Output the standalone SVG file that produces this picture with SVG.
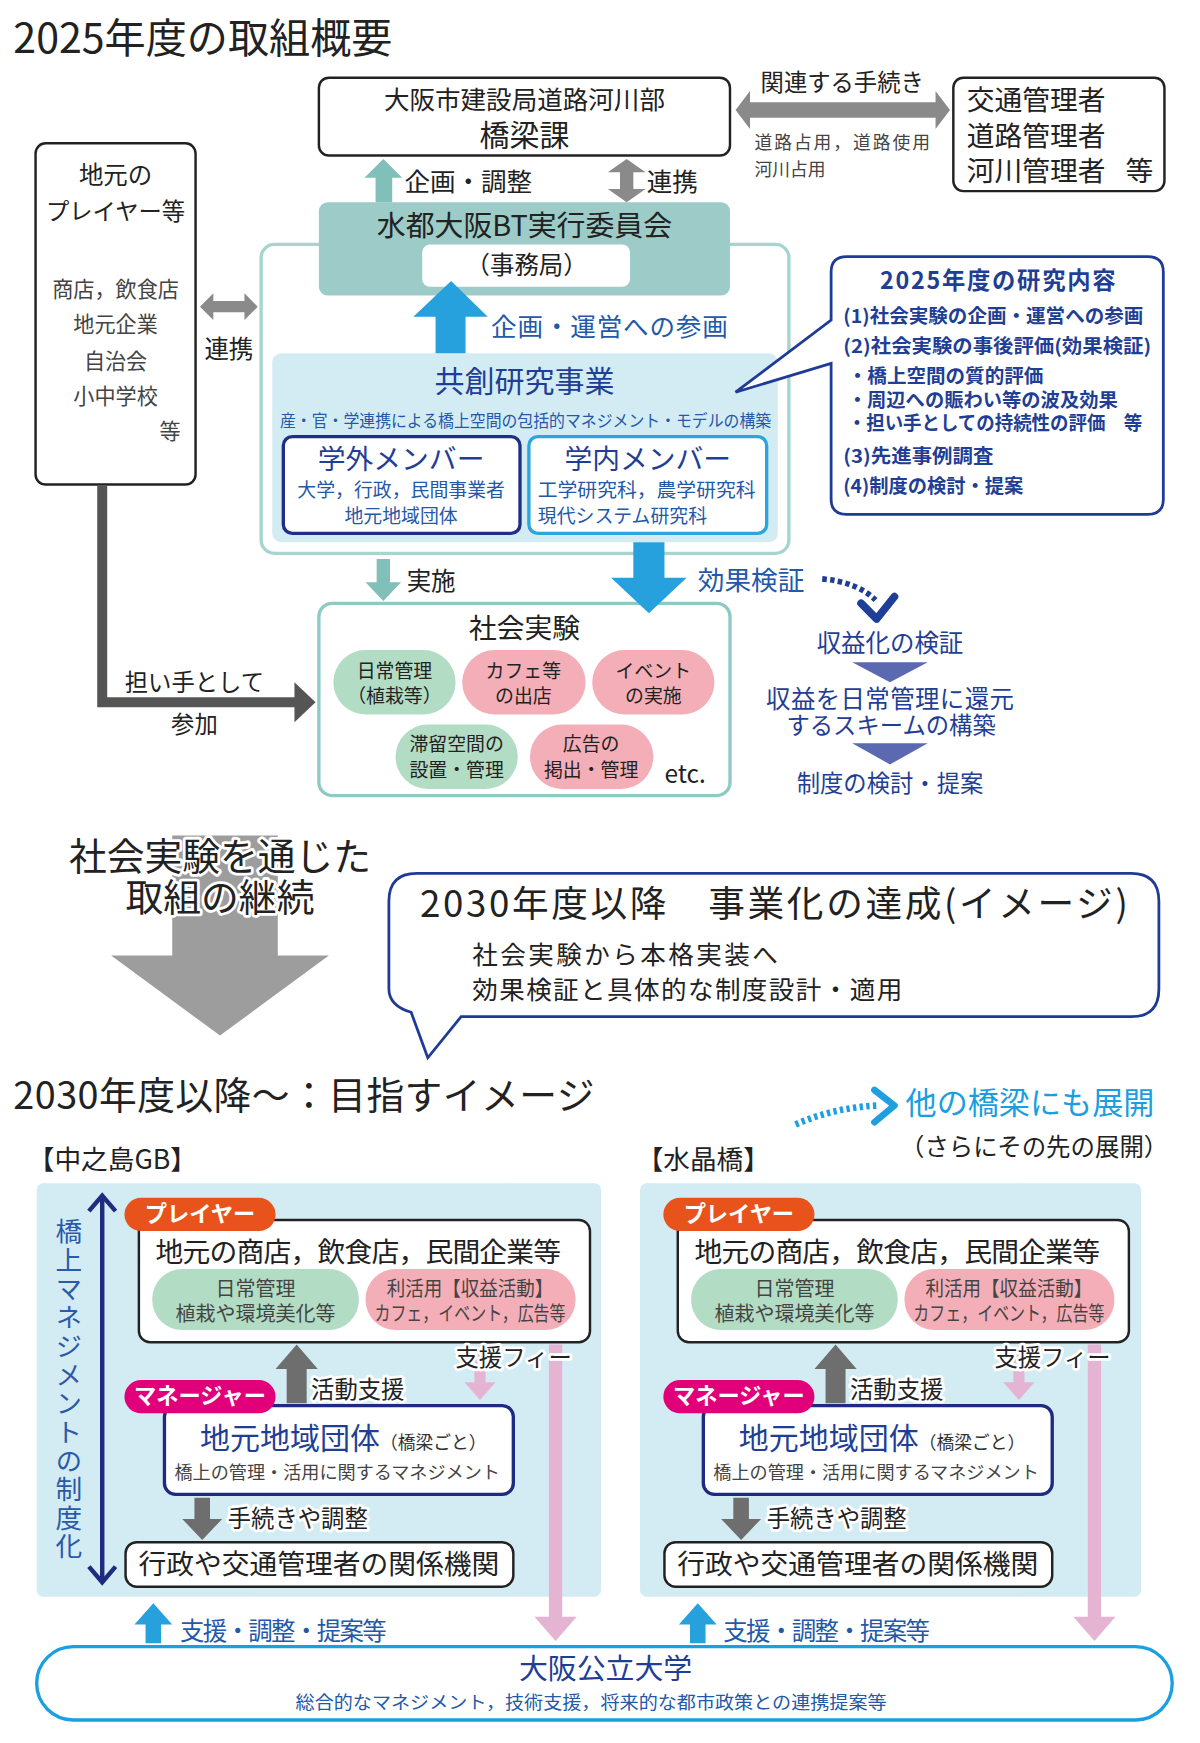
<svg xmlns="http://www.w3.org/2000/svg" width="1200" height="1743" viewBox="0 0 1200 1743">
<style>
text{font-family:"Noto Sans CJK JP","Noto Sans",sans-serif;fill:#222}
.c{text-anchor:middle}
.box{fill:#fff;stroke:#222;stroke-width:2.2}
.nv{fill:#1f3e95}
.bl{fill:#2458a8}
.g{fill:#444}
.b{font-weight:bold}
.halo{paint-order:stroke;stroke:#fff;stroke-width:5;stroke-linejoin:round}
.gray{fill:#8a8a8a}
.dgray{fill:#6e6e6e}
.teal{fill:#80c0b9}
.blue{fill:#27a1de}
.pink{fill:#e4b4d2}
.pg{fill:#b2dcc3}
.pp{fill:#f4aeb7}
.tri{fill:#5b69b1}
.panel{fill:#d3ecf4}
.wh{fill:#fff}
</style>
<rect width="1200" height="1743" fill="#fff"/>
<g transform="scale(1.11111)">

<!-- ===== Section 1 ===== -->
<g id="title-2025"><text x="12" y="48" font-size="37">2025年度の取組概要</text></g>

<g id="n-bridge-division">
<rect class="box" x="287" y="70" width="370" height="70" rx="9"/>
<text class="c"><tspan x="472" y="98" font-size="23">大阪市建設局道路河川部</tspan><tspan x="472" y="131" font-size="27">橋梁課</tspan></text>
</g>

<g id="n-road-managers">
<rect class="box" x="858" y="70" width="190" height="102" rx="9"/>
<text font-size="25"><tspan x="870" y="99">交通管理者</tspan><tspan x="870" y="131">道路管理者</tspan><tspan x="870" y="163">河川管理者</tspan><tspan x="1013" y="163">等</tspan></text>
</g>

<g id="n-local-players">
<rect class="box" x="32" y="129" width="144" height="307" rx="9"/>
<text class="c"><tspan x="104" y="166" font-size="22">地元の</tspan><tspan x="104" y="198" font-size="21">プレイヤー等</tspan><tspan class="g" x="104" y="267" font-size="19">商店，飲食店</tspan><tspan class="g" x="104" y="299" font-size="19">地元企業</tspan><tspan class="g" x="104" y="332" font-size="19">自治会</tspan><tspan class="g" x="104" y="364" font-size="19">小中学校</tspan><tspan class="g" x="153" y="395" font-size="19">等</tspan></text>
</g>

<g id="n-committee">
<rect x="235" y="220" width="475" height="278" rx="12" fill="#fff" stroke="#a6d5d0" stroke-width="3"/>
<rect x="287" y="182" width="370" height="84" rx="8" fill="#9dcbc7"/>
<text class="c" x="472" y="212" font-size="26">水都大阪BT実行委員会</text>
<rect x="380" y="220" width="187" height="38" rx="7" fill="#fff"/>
<text class="c" x="474" y="247" font-size="22">（事務局）</text>
</g>

<g id="n-cocreation">
<rect x="245" y="318" width="455" height="170" rx="8" class="panel"/>
<text class="c nv" x="472" y="353" font-size="27">共創研究事業</text>
<text class="c bl" x="473" y="384" font-size="15" textLength="442" lengthAdjust="spacingAndGlyphs">産・官・学連携による橋上空間の包括的マネジメント・モデルの構築</text>
<g id="n-external">
<rect x="255" y="393" width="213" height="87" rx="8" fill="#fff" stroke="#1f2f86" stroke-width="3"/>
<text class="c"><tspan class="nv" x="361" y="422" font-size="25">学外メンバー</tspan><tspan class="bl" x="361" y="447" font-size="17">大学，行政，民間事業者</tspan><tspan class="bl" x="361" y="471" font-size="17">地元地域団体</tspan></text>
</g>
<g id="n-internal">
<rect x="476" y="393" width="214" height="87" rx="8" fill="#fff" stroke="#2aa5e0" stroke-width="3"/>
<text><tspan class="nv c" x="583" y="422" font-size="25">学内メンバー</tspan><tspan class="bl" x="484" y="447" font-size="17" textLength="196" lengthAdjust="spacingAndGlyphs">工学研究科，農学研究科</tspan><tspan class="bl" x="484" y="471" font-size="17">現代システム研究科</tspan></text>
</g>
</g>

<g id="n-research">
<path d="M762 231 H1033 Q1047 231 1047 245 V449 Q1047 463 1033 463 H762 Q748 463 748 449 V327 L662 353 L748 288 V245 Q748 231 762 231 Z" fill="#fff" stroke="#1f3b96" stroke-width="2.5"/>
<text class="c nv b" x="898" y="260" font-size="21" textLength="212">2025年度の研究内容</text>
<text class="nv b" font-size="17"><tspan x="759" y="291" textLength="270" lengthAdjust="spacingAndGlyphs">(1)社会実験の企画・運営への参画</tspan><tspan x="759" y="318" textLength="277" lengthAdjust="spacingAndGlyphs">(2)社会実験の事後評価(効果検証)</tspan><tspan x="763" y="345" textLength="176" lengthAdjust="spacingAndGlyphs">・橋上空間の質的評価</tspan><tspan x="763" y="366" textLength="243" lengthAdjust="spacingAndGlyphs">・周辺への賑わい等の波及効果</tspan><tspan x="763" y="387" textLength="265" lengthAdjust="spacingAndGlyphs">・担い手としての持続性の評価　等</tspan><tspan x="759" y="417" textLength="135" lengthAdjust="spacingAndGlyphs">(3)先進事例調査</tspan><tspan x="759" y="444" textLength="162" lengthAdjust="spacingAndGlyphs">(4)制度の検討・提案</tspan></text>
</g>

<g id="n-social-experiment">
<rect x="287" y="543" width="370" height="173" rx="12" fill="#fff" stroke="#8ecac4" stroke-width="3"/>
<text class="c" x="472" y="574" font-size="25">社会実験</text>
<rect class="pg" x="300" y="585" width="110" height="58" rx="29"/>
<text class="c" font-size="17"><tspan x="355" y="610">日常管理</tspan><tspan x="355" y="633">（植栽等）</tspan></text>
<rect class="pp" x="416" y="585" width="111" height="58" rx="29"/>
<text class="c" font-size="17"><tspan x="471" y="610">カフェ等</tspan><tspan x="471" y="633">の出店</tspan></text>
<rect class="pp" x="533" y="585" width="110" height="58" rx="29"/>
<text class="c" font-size="17"><tspan x="588" y="610">イベント</tspan><tspan x="588" y="633">の実施</tspan></text>
<rect class="pg" x="356" y="652" width="110" height="58" rx="29"/>
<text class="c" font-size="17"><tspan x="411" y="676">滞留空間の</tspan><tspan x="411" y="699">設置・管理</tspan></text>
<rect class="pp" x="477" y="652" width="111" height="58" rx="29"/>
<text class="c" font-size="17"><tspan x="532" y="676">広告の</tspan><tspan x="532" y="699">掲出・管理</tspan></text>
<text x="598" y="705" font-size="22">etc.</text>
</g>

<g id="n-flow">
<text class="c nv" x="801" y="587" font-size="22">収益化の検証</text>
<text class="c nv"><tspan x="801" y="637" font-size="22" textLength="223">収益を日常管理に還元</tspan><tspan x="802" y="661" font-size="21">するスキームの構築</tspan></text>
<text class="c nv" x="801" y="713" font-size="21">制度の検討・提案</text>
</g>

<!-- ===== Section 2 ===== -->
<g id="n-continuation">
<polygon points="155,752 250,752 250,860 296,860 198,932 100,860 155,860" fill="#9d9d9d"/>
<text class="c halo" font-size="34"><tspan x="198" y="783">社会実験を通じた</tspan><tspan x="198" y="820">取組の継続</tspan></text>
</g>

<g id="n-2030-bubble">
<path d="M375 786 H1018 Q1043 786 1043 811 V890 Q1043 915 1018 915 H415 L385 952 L370 911 Q350 905 350 890 V811 Q350 786 375 786 Z" fill="#fff" stroke="#1f3b96" stroke-width="2.5"/>
<text x="378" y="825" font-size="33" textLength="637">2030年度以降　事業化の達成(イメージ)</text>
<text font-size="23"><tspan x="425" y="868" textLength="275">社会実験から本格実装へ</tspan><tspan x="425" y="899" textLength="387">効果検証と具体的な制度設計・適用</tspan></text>
</g>

<!-- ===== Section 3 ===== -->
<g id="title-2030"><text x="12" y="998" font-size="34" textLength="523">2030年度以降～：目指すイメージ</text></g>

<g id="n-expand">
<text x="815" y="1003" font-size="28" style="fill:#1a9ee0">他の橋梁にも展開</text>
<text x="810" y="1040" font-size="22">（さらにその先の展開）</text>
</g>

<g id="n-panel-nakanoshima">
<text x="25" y="1052" font-size="24">【中之島GB】</text>
<rect class="panel" x="33" y="1065" width="508" height="372" rx="6"/>
<text x="62" y="1096" font-size="24" style="writing-mode:vertical-rl;text-orientation:upright;letter-spacing:1.8px;fill:#2a5aa8">橋上マネジメントの制度化</text>
<g id="n-player-1">
<rect class="box" x="125" y="1098" width="406" height="110" rx="10" stroke-width="2.5"/>
<rect x="112" y="1078" width="136" height="30" rx="15" fill="#e8531b"/>
<text class="c b wh" x="180" y="1100" font-size="20">プレイヤー</text>
<text x="140" y="1136" font-size="25" textLength="365">地元の商店，飲食店，民間企業等</text>
<rect class="pg" x="137" y="1142" width="186" height="55" rx="27"/>
<text class="c g" font-size="18"><tspan x="230" y="1166">日常管理</tspan><tspan x="230" y="1189">植栽や環境美化等</tspan></text>
<rect class="pp" x="329" y="1142" width="189" height="55" rx="27"/>
<text class="c g" font-size="18"><tspan x="423" y="1166" textLength="150" lengthAdjust="spacingAndGlyphs">利活用【収益活動】</tspan><tspan x="423" y="1189" textLength="172" lengthAdjust="spacingAndGlyphs">カフェ，イベント，広告等</tspan></text>
</g>
<g id="n-manager-1">
<rect x="148" y="1265" width="314" height="80" rx="10" fill="#fff" stroke="#1f2a80" stroke-width="3"/>
<rect x="112" y="1242" width="136" height="30" rx="15" fill="#e2007a"/>
<text class="c b wh" x="180" y="1264" font-size="20">マネージャー</text>
<text><tspan x="180" y="1304" font-size="27" class="nv">地元地域団体</tspan><tspan font-size="16" style="fill:#333">（橋梁ごと）</tspan><tspan class="g" x="157" y="1331" font-size="16" textLength="293" lengthAdjust="spacingAndGlyphs">橋上の管理・活用に関するマネジメント</tspan></text>
</g>
<g id="n-agency-1">
<rect class="box" x="113" y="1388" width="349" height="40" rx="10" stroke-width="2.5"/>
<text class="c" x="287" y="1417" font-size="25">行政や交通管理者の関係機関</text>
</g>
</g>

<g id="n-panel-suishobashi">
<text x="573" y="1052" font-size="24">【水晶橋】</text>
<rect class="panel" x="576" y="1065" width="451" height="372" rx="6"/>
<g id="n-player-2" transform="translate(485,0)">
<rect class="box" x="125" y="1098" width="406" height="110" rx="10" stroke-width="2.5"/>
<rect x="112" y="1078" width="136" height="30" rx="15" fill="#e8531b"/>
<text class="c b wh" x="180" y="1100" font-size="20">プレイヤー</text>
<text x="140" y="1136" font-size="25" textLength="365">地元の商店，飲食店，民間企業等</text>
<rect class="pg" x="137" y="1142" width="186" height="55" rx="27"/>
<text class="c g" font-size="18"><tspan x="230" y="1166">日常管理</tspan><tspan x="230" y="1189">植栽や環境美化等</tspan></text>
<rect class="pp" x="329" y="1142" width="189" height="55" rx="27"/>
<text class="c g" font-size="18"><tspan x="423" y="1166" textLength="150" lengthAdjust="spacingAndGlyphs">利活用【収益活動】</tspan><tspan x="423" y="1189" textLength="172" lengthAdjust="spacingAndGlyphs">カフェ，イベント，広告等</tspan></text>
</g>
<g id="n-manager-2" transform="translate(485,0)">
<rect x="148" y="1265" width="314" height="80" rx="10" fill="#fff" stroke="#1f2a80" stroke-width="3"/>
<rect x="112" y="1242" width="136" height="30" rx="15" fill="#e2007a"/>
<text class="c b wh" x="180" y="1264" font-size="20">マネージャー</text>
<text><tspan x="180" y="1304" font-size="27" class="nv">地元地域団体</tspan><tspan font-size="16" style="fill:#333">（橋梁ごと）</tspan><tspan class="g" x="157" y="1331" font-size="16" textLength="293" lengthAdjust="spacingAndGlyphs">橋上の管理・活用に関するマネジメント</tspan></text>
</g>
<g id="n-agency-2" transform="translate(485,0)">
<rect class="box" x="113" y="1388" width="349" height="40" rx="10" stroke-width="2.5"/>
<text class="c" x="287" y="1417" font-size="25">行政や交通管理者の関係機関</text>
</g>
</g>

<g id="n-omu">
<rect x="33" y="1482" width="1022" height="66" rx="33" fill="#fff" stroke="#1a9fe0" stroke-width="3"/>
<text class="c nv" x="545" y="1511" font-size="26">大阪公立大学</text>
<text class="c bl" x="532" y="1538" font-size="16" textLength="532" lengthAdjust="spacingAndGlyphs">総合的なマネジメント，技術支援，将来的な都市政策との連携提案等</text>
</g>

<!-- ===== Connectors ===== -->
<g id="connectors">
<polygon class="gray" points="662,99 675,82 675,92 842,92 842,82 855,99 842,116 842,106 675,106 675,116"/>
<text class="c" x="758" y="82" font-size="21">関連する手続き</text>
<text class="g" font-size="16"><tspan x="679" y="134" textLength="158">道路占用，道路使用</tspan><tspan x="679" y="158">河川占用</tspan></text>
<polygon class="teal" points="345,143 328,160 338,160 338,182 353,182 353,160 362,160"/>
<text x="364" y="172" font-size="23">企画・調整</text>
<polygon class="gray" points="564,143 547,155 558,155 558,170 547,170 564,182 581,170 570,170 570,155 581,155"/>
<text x="582" y="172" font-size="23">連携</text>
<polygon class="gray" points="180,276 192,264 192,271 220,271 220,264 232,276 220,288 220,281 192,281 192,288"/>
<text class="c" x="206" y="322" font-size="22">連携</text>
<path d="M92 437 V632 H268" fill="none" stroke="#555" stroke-width="9"/>
<polygon points="265,614 284,632 265,650" fill="#555"/>
<text class="c" x="175" y="622" font-size="21">担い手として</text>
<text class="c" x="175" y="660" font-size="21">参加</text>
<polygon class="blue" points="406,253 372,285 392,285 392,318 419,318 419,285 439,285"/>
<text class="bl" x="442" y="302" font-size="23" textLength="213">企画・運営への参画</text>
<polygon class="teal" points="339,503 351,503 351,524 361,524 345,541 329,524 339,524"/>
<text x="366" y="531" font-size="22">実施</text>
<polygon class="blue" points="570,488 598,488 598,520 618,520 584,552 550,520 570,520"/>
<text class="bl" x="628" y="531" font-size="24">効果検証</text>
<path d="M740 521 Q772 524 788 540" fill="none" stroke="#1f3f96" stroke-width="5" stroke-dasharray="4 3"/>
<polyline points="775,543 789,557 805,537" fill="none" stroke="#1f3f96" stroke-width="7" stroke-linecap="round" stroke-linejoin="round"/>
<polygon class="tri" points="767,596 835,596 801,614"/>
<polygon class="tri" points="767,669 835,669 801,688"/>
<path d="M716 1012 Q750 997 789 995" fill="none" stroke="#1ea0e0" stroke-width="6" stroke-dasharray="3 3"/>
<polyline points="787,981 805,995 787,1010" fill="none" stroke="#1ea0e0" stroke-width="6" stroke-linecap="round" stroke-linejoin="round"/>
<line x1="92" y1="1077" x2="92" y2="1423" stroke="#1f2a80" stroke-width="4"/>
<polyline points="80,1090 92,1076 104,1090" fill="none" stroke="#1f2a80" stroke-width="4"/>
<polyline points="80,1410 92,1424 104,1410" fill="none" stroke="#1f2a80" stroke-width="4"/>
<polygon class="pink" points="427,1212 437,1212 437,1244 446,1244 432,1260 418,1244 427,1244"/>
<polygon class="pink" points="494,1210 506,1210 506,1455 519,1455 500,1477 481,1455 494,1455"/>
<polygon class="dgray" points="267,1210 248,1232 258,1232 258,1263 276,1263 276,1232 286,1232"/>
<text class="halo" x="280" y="1258" font-size="21">活動支援</text>
<text class="halo" x="410" y="1229" font-size="21">支援フィー</text>
<polygon class="dgray" points="175,1348 189,1348 189,1367 200,1367 182,1386 164,1367 175,1367"/>
<text class="halo" x="205" y="1374" font-size="21">手続きや調整</text>
<polygon class="blue" points="138,1443 121,1462 131,1462 131,1479 145,1479 145,1462 155,1462"/>
<text class="bl" x="162" y="1476" font-size="22" textLength="186">支援・調整・提案等</text>
<polygon class="pink" points="912,1212 922,1212 922,1244 931,1244 917,1260 903,1244 912,1244"/>
<polygon class="pink" points="979,1210 991,1210 991,1455 1004,1455 985,1477 966,1455 979,1455"/>
<polygon class="dgray" points="752,1210 733,1232 743,1232 743,1263 761,1263 761,1232 771,1232"/>
<text class="halo" x="765" y="1258" font-size="21">活動支援</text>
<text class="halo" x="895" y="1229" font-size="21">支援フィー</text>
<polygon class="dgray" points="660,1348 674,1348 674,1367 685,1367 667,1386 649,1367 660,1367"/>
<text class="halo" x="690" y="1374" font-size="21">手続きや調整</text>
<polygon class="blue" points="628,1443 611,1462 621,1462 621,1479 635,1479 635,1462 645,1462"/>
<text class="bl" x="651" y="1476" font-size="22" textLength="186">支援・調整・提案等</text>
</g>

</g>
</svg>
